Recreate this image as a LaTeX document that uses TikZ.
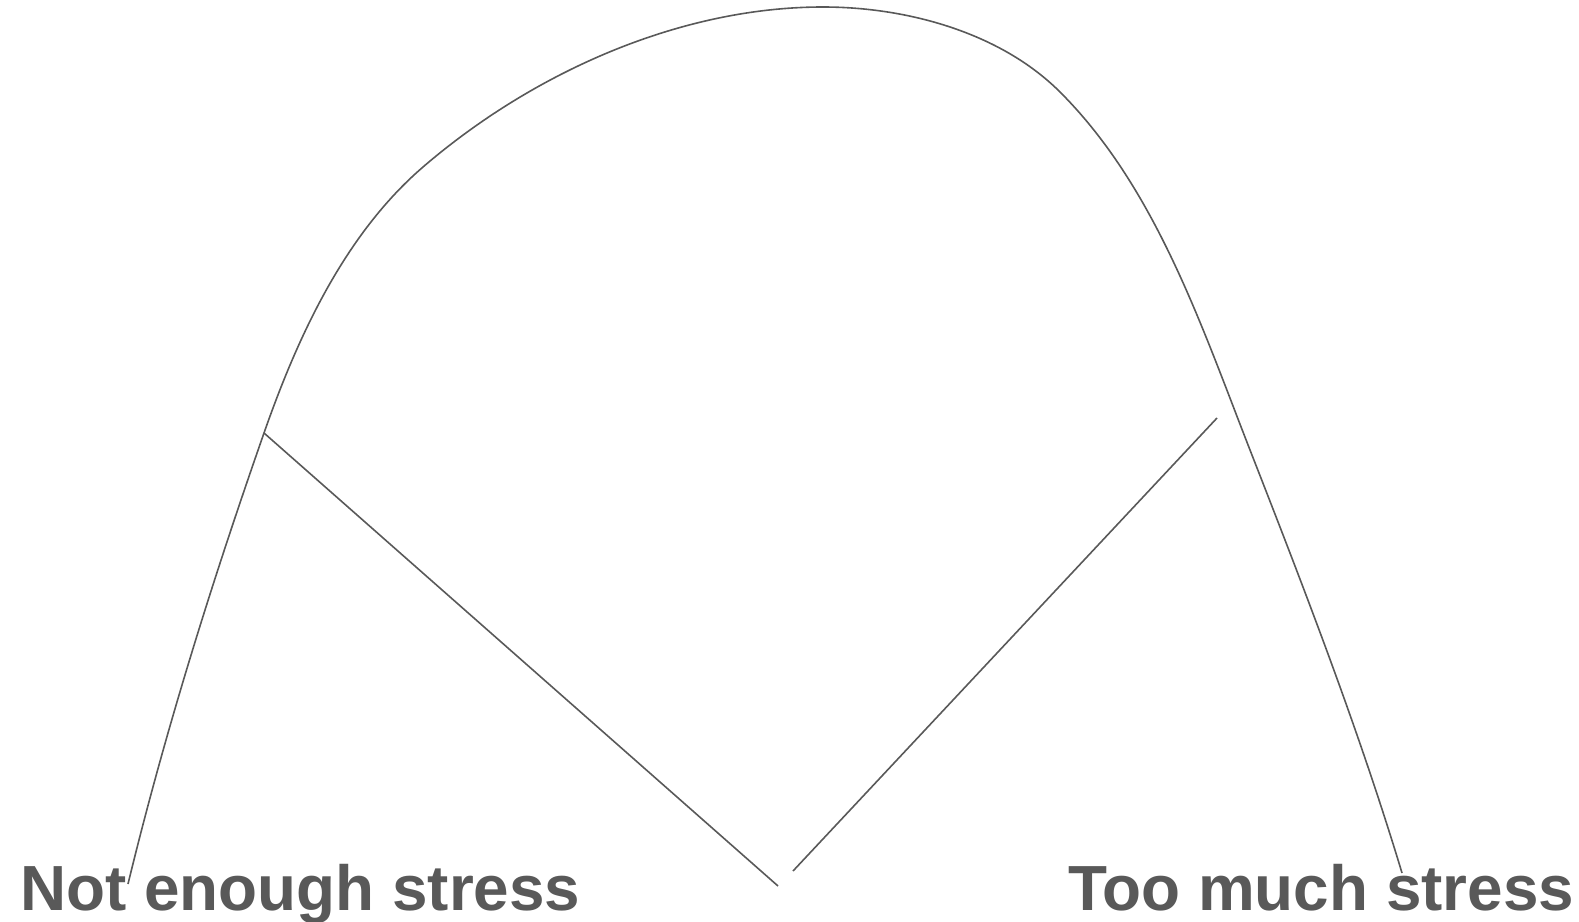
\documentclass[tikz,border=0pt]{standalone}
\usepackage{fontspec}
\setmainfont{Liberation Sans}
\definecolor{ink}{HTML}{595959}
\begin{document}
\begin{tikzpicture}[x=1pt,y=-1pt,
  lbl/.style={font=\fontsize{63.8}{64}\selectfont\bfseries, text=ink, inner sep=0pt, anchor=base west},
  ln/.style={draw=ink, line width=1.6pt}]
\useasboundingbox (0,0) rectangle (1579,921);
\node[lbl] (lo) at (20,910) {Not enough stress};
\node[lbl] (hi) at (1068,910) {Too much stress};
\coordinate (cs) at (128,884);
\coordinate (pl) at (264,433);
\coordinate (k2) at (423,167);
\coordinate (top) at (823,7);
\coordinate (k4) at (1060,92);
\coordinate (k5) at (1250,450);
\coordinate (ce) at (1402,873);
\coordinate (pr) at (1217,418);
\coordinate (vl) at (778,886);
\coordinate (vr) at (793,871);
\draw[ln] (cs) .. controls (165.1,731.4) and (212.2,581.2) .. (pl)
  .. controls (298,335.8) and (344.9,234.2) .. (k2)
  .. controls (532.2,73.1) and (679,7) .. (top)
  .. controls (907,7) and (1000.6,32.6) .. (k4)
  .. controls (1155.4,187.4) and (1200.9,324.3) .. (k5)
  .. controls (1304.6,589.7) and (1358.7,729.5) .. (ce);
\draw[ln] (pl) -- (vl);
\draw[ln] (vr) -- (pr);
\end{tikzpicture}
\end{document}
